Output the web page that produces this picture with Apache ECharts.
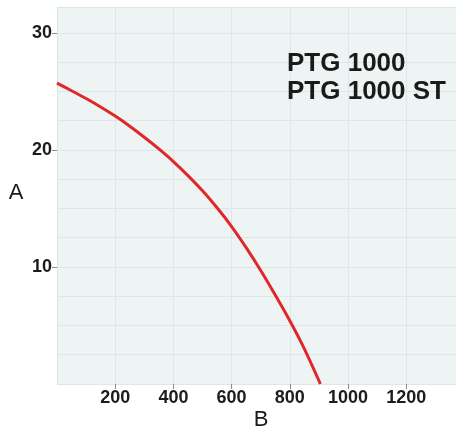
<!DOCTYPE html>
<html>
<head>
<meta charset="utf-8">
<script src="https://cdn.jsdelivr.net/npm/echarts@6/dist/echarts.min.js"></script>
<style>
html,body{margin:0;padding:0;background:#fff;}
#c{width:456px;height:428px;}
</style>
</head>
<body>
<div id="c"></div>
<script>
var flowB = [0, 50, 100, 150, 200, 250, 300, 350, 400, 450, 500, 550, 600, 650, 700, 750, 800, 850, 905];
var headA = [25.7, 25.05, 24.38, 23.66, 22.88, 22.02, 21.08, 20.08, 19.0, 17.8, 16.5, 15.05, 13.45, 11.65, 9.7, 7.6, 5.4, 3.0, 0];
var xTickLabels = ['200', '400', '600', '800', '1000', '1200'];
var yTickLabels = ['10', '20', '30'];
var titleLines = ['PTG 1000', 'PTG 1000 ST'];
var yName = 'A';
var xName = 'B';

var points = flowB.map(function (q, i) { return [q, headA[i]]; });

var chart = echarts.init(document.getElementById('c'), null, {renderer: 'canvas'});
var labelFont = {fontFamily: 'Liberation Sans', fontWeight: 'bold', fontSize: 18, color: '#1c1c1c'};
chart.setOption({
  animation: false,
  grid: {left: 57, right: 0, top: 7, bottom: 44, show: true, backgroundColor: '#eef4f3', borderWidth: 0},
  xAxis: {
    type: 'value', min: 0, max: 1371, interval: 200,
    axisLine: {show: false},
    axisTick: {show: true, length: 5, lineStyle: {color: '#8a8a8a', width: 1}},
    splitLine: {show: true, lineStyle: {color: '#dde7e6', width: 1}},
    axisLabel: Object.assign({margin: 5, showMinLabel: false, showMaxLabel: false,
      formatter: function (v) { var s = String(v); return xTickLabels.indexOf(s) >= 0 ? s : ''; }}, labelFont)
  },
  yAxis: {
    type: 'value', min: 0, max: 32.2, interval: 10,
    axisLine: {show: false},
    axisTick: {show: true, length: 5, lineStyle: {color: '#8a8a8a', width: 1}},
    splitLine: {show: true, lineStyle: {color: '#dde7e6', width: 1}},
    minorTick: {show: false, splitNumber: 4},
    minorSplitLine: {show: true, lineStyle: {color: '#dde7e6', width: 1}},
    axisLabel: Object.assign({margin: 5, showMinLabel: false, showMaxLabel: false,
      formatter: function (v) { var s = String(v); return yTickLabels.indexOf(s) >= 0 ? s : ''; }}, labelFont)
  },
  series: [{
    type: 'line', data: points, smooth: 0.3, symbol: 'none', clip: true,
    lineStyle: {color: '#e0282c', width: 3}
  }],
  graphic: [
    {type: 'text', z: 100, left: 287, top: 50, style: {text: titleLines.join('\n'), font: 'bold 26px "Liberation Sans"', fill: '#1a1a1a', lineHeight: 28}},
    {type: 'text', z: 100, x: 16, y: 193, style: {text: yName, font: '22px "Liberation Sans"', fill: '#1a1a1a', align: 'center', verticalAlign: 'middle'}},
    {type: 'text', z: 100, x: 261, y: 420, style: {text: xName, font: '22px "Liberation Sans"', fill: '#1a1a1a', align: 'center', verticalAlign: 'middle'}}
  ]
});
</script>
</body>
</html>
